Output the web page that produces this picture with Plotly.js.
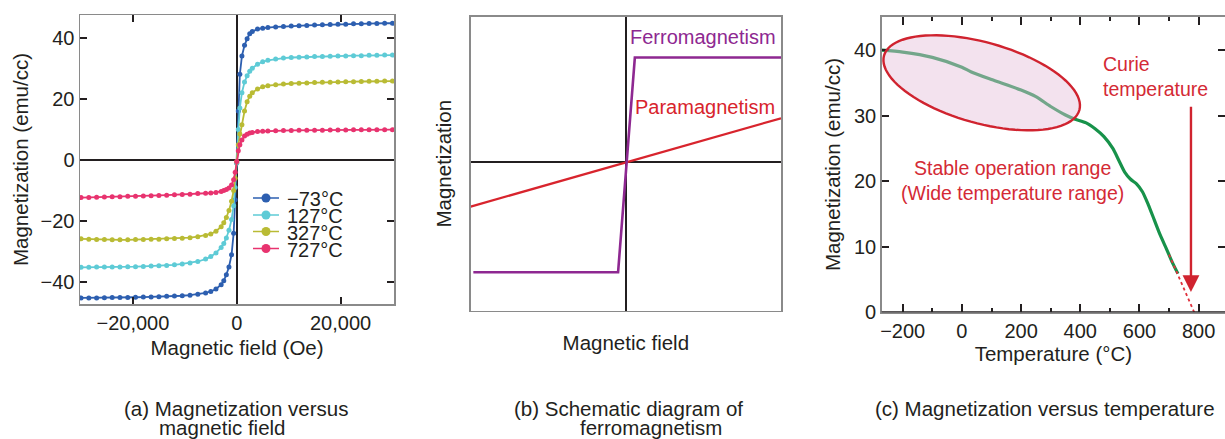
<!DOCTYPE html>
<html><head><meta charset="utf-8">
<script src="https://cdn.plot.ly/plotly-3.0.1.min.js"></script>
<style>html,body{margin:0;padding:0;background:#fff}#chart{width:1225px;height:439px}</style>
</head><body><div id="chart"></div>
<script>
// ---------- DATA ----------
// (a) Magnetization versus magnetic field
const fieldOe = [-30000,-28500,-27000,-25500,-24000,-22500,-21000,-19500,-18000,-16500,-15000,-13500,-12000,-10500,-9000,-7500,-6000,-5000,-4000,-3000,-2500,-2000,-1500,-1000,-600,-300,0,300,600,1000,1500,2000,2500,3000,4000,5000,6000,7500,9000,10500,12000,13500,15000,16500,18000,19500,21000,22500,24000,25500,27000,28500,30000];
const seriesNames = ['\u221273\u00b0C','127\u00b0C','327\u00b0C','727\u00b0C'];
const magMinus73 = [-45.1,-45.1,-45.1,-45.05,-45.0,-45.0,-44.95,-44.9,-44.85,-44.8,-44.7,-44.6,-44.5,-44.4,-44.2,-43.9,-43.5,-43.0,-42.2,-40.8,-39.5,-37.5,-35.0,-31.0,-24.0,-13.0,-1,16,28,34,37.5,39.6,41.3,42.0,42.8,43.1,43.3,43.5,43.6,43.8,43.9,44.0,44.1,44.2,44.3,44.35,44.4,44.5,44.55,44.6,44.65,44.7,44.7];
const mag127 = [-35.1,-35.1,-35.0,-35.0,-35.0,-35.0,-34.9,-34.9,-34.8,-34.7,-34.6,-34.5,-34.3,-34.0,-33.7,-33.2,-32.4,-31.6,-30.4,-28.6,-27.3,-25.5,-23.0,-19.5,-15.0,-9.0,-1,10,17,22,25.5,27.5,29,30,31.3,32.1,32.6,33.0,33.3,33.5,33.6,33.7,33.8,33.85,33.9,34.0,34.0,34.1,34.1,34.2,34.2,34.3,34.3];
const mag327 = [-25.8,-25.9,-26.0,-26.0,-26.1,-26.1,-26.1,-26.0,-26.0,-25.95,-25.9,-25.8,-25.7,-25.6,-25.4,-25.1,-24.7,-24.2,-23.3,-21.8,-20.5,-18.8,-16.5,-13.5,-10.0,-6.0,-0.5,5,8.5,11.5,16,19,20.8,22,23.2,23.9,24.3,24.6,24.8,25.0,25.1,25.2,25.3,25.4,25.45,25.5,25.55,25.6,25.65,25.7,25.75,25.8,25.8];
const mag727 = [-12.3,-12.25,-12.2,-12.1,-12.05,-12.0,-11.9,-11.85,-11.8,-11.7,-11.6,-11.5,-11.4,-11.3,-11.2,-11.0,-10.9,-10.8,-10.6,-10.3,-10.0,-9.7,-9.2,-8.2,-6.5,-4.0,-0.5,3,5,6.5,7.8,8.4,8.8,9.0,9.3,9.4,9.5,9.55,9.6,9.65,9.7,9.7,9.75,9.75,9.8,9.8,9.8,9.85,9.85,9.85,9.9,9.9,9.9];
const tickFieldA = [-20000,0,20000];
const tickMagA = [-40,-20,0,20,40];

// (b) Schematic diagram of ferromagnetism (arbitrary units)
const paraField = [-1, 1];
const paraMag = [-0.304, 0.297];
const ferroField = [-0.983, -0.05, 0.058, 1];
const ferroMag = [-0.75, -0.75, 0.71, 0.71];

// (c) Magnetization versus temperature
const tempC = [-271,-200,-100,0,30,100,200,250,300,350,380,420,450,480,510,530,550,570,590,610,630,650,670,690,710,730];
const magT = [40.0,39.7,38.9,37.4,36.7,35.5,33.9,32.9,31.4,30.1,29.5,28.9,28.0,26.8,25.0,23.2,21.4,20.3,19.6,18.4,16.4,14.1,11.8,9.8,7.7,5.9];
const curieT = [700, 785];
const curieM = [8.8, 0];
const tickTempC = [-200,0,200,400,600,800];
const minorTempC = [-100,100,300,500,700];
const tickMagC = [0,10,20,30,40];

// ---------- STYLE / LAYOUT ----------
const W = 1225, H = 439;
const FONT = 'Liberation Sans, Arial, Helvetica, sans-serif';
const INK = '#231f20', FRAME = '#8a8a8a', RED = '#d42a35';
const colorsA = ['#2d5fb0','#5ecbd6','#b9bb34','#e8336f'];
const fx = p => p / W, fy = p => 1 - p / H;

const boxA = {x0: 80, x1: 394, y0: 15, y1: 304};
const boxB = {x0: 470.7, x1: 781, y0: 16.7, y1: 310.7};
const boxC = {x0: 881.7, x1: 1225, y0: 16.7, y1: 312.3};
const rangeXA = [-30200, 30300], rangeYA = [-47.1, 47.4];
const rangeXB = [-1, 1], rangeYB = [-1.012, 0.988];
const rangeXC = [-271, 889], rangeYC = [0, 45.1];

const seriesA = [magMinus73, mag127, mag327, mag727];
const traces = seriesA.map((m, i) => ({
  x: fieldOe, y: m, xaxis: 'x', yaxis: 'y', type: 'scatter', mode: 'lines+markers',
  name: seriesNames[i], line: {color: colorsA[i], width: 1.8},
  marker: {color: colorsA[i], size: 5}, showlegend: false
}));
traces.push({x: paraField, y: paraMag, xaxis: 'x2', yaxis: 'y2', mode: 'lines', name: 'Paramagnetism',
  line: {color: '#d8242d', width: 2.2}, showlegend: false});
traces.push({x: ferroField, y: ferroMag, xaxis: 'x2', yaxis: 'y2', mode: 'lines', name: 'Ferromagnetism',
  line: {color: '#8e2891', width: 2.6}, showlegend: false});
traces.push({x: tempC, y: magT, xaxis: 'x3', yaxis: 'y3', mode: 'lines', name: 'Magnetization',
  line: {color: '#17924a', width: 3.2, shape: 'spline', smoothing: 0.7}, showlegend: false});
traces.push({x: curieT, y: curieM, xaxis: 'x3', yaxis: 'y3', mode: 'lines', name: 'Extrapolation',
  line: {color: '#e0303c', width: 1.8, dash: 'dot'}, showlegend: false});

function axisCommon(extra) {
  return Object.assign({
    showline: true, linecolor: FRAME, linewidth: 1.5, mirror: 'ticks',
    ticks: 'inside', ticklen: 7, tickwidth: 2, tickcolor: INK,
    showgrid: false, zeroline: false, automargin: false, fixedrange: true,
    tickfont: {family: FONT, size: 20, color: INK}
  }, extra);
}
const titleFont = {family: FONT, size: 20.5, color: INK};

// ellipse (decorative highlight) in panel c, defined in pixels
function xC(p) { return rangeXC[0] + (p - boxC.x0) / (boxC.x1 - boxC.x0) * (rangeXC[1] - rangeXC[0]); }
function yC(p) { return rangeYC[0] + (boxC.y1 - p) / (boxC.y1 - boxC.y0) * (rangeYC[1] - rangeYC[0]); }
const ell = {cx: 981.7, cy: 82.8, a: 101.4, b: 40.4, th: 15.6 * Math.PI / 180};
let ePath = '';
for (let k = 0; k <= 96; k++) {
  const t = k / 96 * 2 * Math.PI;
  const px = ell.cx + ell.a * Math.cos(t) * Math.cos(ell.th) - ell.b * Math.sin(t) * Math.sin(ell.th);
  const py = ell.cy + ell.a * Math.cos(t) * Math.sin(ell.th) + ell.b * Math.sin(t) * Math.cos(ell.th);
  ePath += (k === 0 ? 'M' : 'L') + xC(px).toFixed(2) + ',' + yC(py).toFixed(3);
}
ePath += 'Z';

const shapes = [
  {type: 'path', path: ePath, xref: 'x3', yref: 'y3', layer: 'above',
   fillcolor: 'rgba(228,190,218,0.45)', line: {color: '#d0232f', width: 2.4}},
  {type: 'line', xref: 'x3 domain', yref: 'y3', x0: 0, x1: 1, y0: 0, y1: 0, line: {color: INK, width: 2}}
];
const annotations = [];

// legend for panel a (custom, compact rows)
const legRows = [198, 215, 231.5, 248.5];
seriesNames.forEach((nm, i) => {
  shapes.push({type: 'line', xref: 'paper', yref: 'paper', x0: fx(253), x1: fx(279), y0: fy(legRows[i]), y1: fy(legRows[i]),
    line: {color: colorsA[i], width: 1.5}});
  shapes.push({type: 'circle', xref: 'paper', yref: 'paper', x0: fx(261.5), x1: fx(270.5), y0: fy(legRows[i] + 4.5), y1: fy(legRows[i] - 4.5),
    fillcolor: colorsA[i], line: {width: 0}});
  annotations.push({xref: 'paper', yref: 'paper', x: fx(285), y: fy(legRows[i] + 1), xanchor: 'left', yanchor: 'middle',
    text: nm, showarrow: false, font: {family: FONT, size: 20, color: INK}});
});

// panel b labels
annotations.push({xref: 'x2', yref: 'y2', x: 0.013, y: 0.852, xanchor: 'left', yanchor: 'middle', text: 'Ferromagnetism',
  showarrow: false, font: {family: FONT, size: 20, color: '#8e2891'}});
annotations.push({xref: 'x2', yref: 'y2', x: 0.045, y: 0.374, xanchor: 'left', yanchor: 'middle', text: 'Paramagnetism',
  showarrow: false, font: {family: FONT, size: 20, color: '#d8242d'}});

// panel c labels
annotations.push({xref: 'x3', yref: 'y3', x: 469, y: 35.9, xanchor: 'left', yanchor: 'middle', align: 'left',
  text: 'Curie<br>temperature', showarrow: false, font: {family: FONT, size: 19.5, color: RED}});
annotations.push({xref: 'x3', yref: 'y3', x: 169.5, y: 20.1, xanchor: 'center', yanchor: 'middle', align: 'center',
  text: 'Stable operation range<br>(Wide temperature range)', showarrow: false, font: {family: FONT, size: 19.5, color: RED}});
annotations.push({xref: 'x3', yref: 'y3', x: 774, y: 3.1, ax: 774, ay: 31.6, axref: 'x3', ayref: 'y3', text: '',
  showarrow: true, arrowhead: 2, arrowsize: 1.4, arrowwidth: 2.4, arrowcolor: '#d0232f', standoff: 0});

// captions
const capFont = {family: FONT, size: 20.5, color: INK};
[[122, 'left', 408.5, '(a) Magnetization versus'], [157, 'left', 427.5, 'magnetic field'],
 [512, 'left', 408.5, '(b) Schematic diagram of'], [578, 'left', 427.5, 'ferromagnetism'],
 [1217, 'right', 408.5, '(c) Magnetization versus temperature']].forEach(c => {
  annotations.push({xref: 'paper', yref: 'paper', x: fx(c[0]), y: fy(c[2]), xanchor: c[1], yanchor: 'middle',
    text: c[3], showarrow: false, font: capFont});
});

const layout = {
  width: W, height: H, margin: {l: 0, r: 0, t: 0, b: 0},
  paper_bgcolor: '#fff', plot_bgcolor: '#fff', showlegend: false,
  font: {family: FONT, color: INK},
  xaxis: axisCommon({domain: [fx(boxA.x0), fx(boxA.x1)], range: rangeXA, tickvals: tickFieldA, tickformat: ',d',
    zeroline: true, zerolinecolor: INK, zerolinewidth: 2, anchor: 'y',
    title: {text: 'Magnetic field (Oe)', font: titleFont, standoff: 8}}),
  yaxis: axisCommon({domain: [fy(boxA.y1), fy(boxA.y0)], range: rangeYA, tickvals: tickMagA,
    zeroline: true, zerolinecolor: INK, zerolinewidth: 2, anchor: 'x',
    title: {text: 'Magnetization (emu/cc)', font: titleFont, standoff: 6}}),
  xaxis2: axisCommon({domain: [fx(boxB.x0), fx(boxB.x1)], range: rangeXB, ticks: '', showticklabels: false, mirror: true,
    zeroline: true, zerolinecolor: INK, zerolinewidth: 2, anchor: 'y2',
    title: {text: 'Magnetic field', font: titleFont, standoff: 24}}),
  yaxis2: axisCommon({domain: [fy(boxB.y1), fy(boxB.y0)], range: rangeYB, ticks: '', showticklabels: false, mirror: true,
    zeroline: true, zerolinecolor: INK, zerolinewidth: 2, anchor: 'x2',
    title: {text: 'Magnetization', font: titleFont, standoff: 12}}),
  xaxis3: axisCommon({domain: [fx(boxC.x0), fx(boxC.x1)], range: rangeXC, tickvals: tickTempC, ticklen: 8,
    minor: {tickvals: minorTempC, ticks: 'inside', ticklen: 4, tickwidth: 2, tickcolor: INK}, anchor: 'y3',
    title: {text: 'Temperature (\u00b0C)', font: titleFont, standoff: 4}}),
  yaxis3: axisCommon({domain: [fy(boxC.y1), fy(boxC.y0)], range: rangeYC, tickvals: tickMagC, anchor: 'x3',
    title: {text: 'Magnetization (emu/cc)', font: titleFont, standoff: 8}}),
  shapes: shapes, annotations: annotations
};

Plotly.newPlot('chart', traces, layout, {staticPlot: true, displayModeBar: false});
</script></body></html>
